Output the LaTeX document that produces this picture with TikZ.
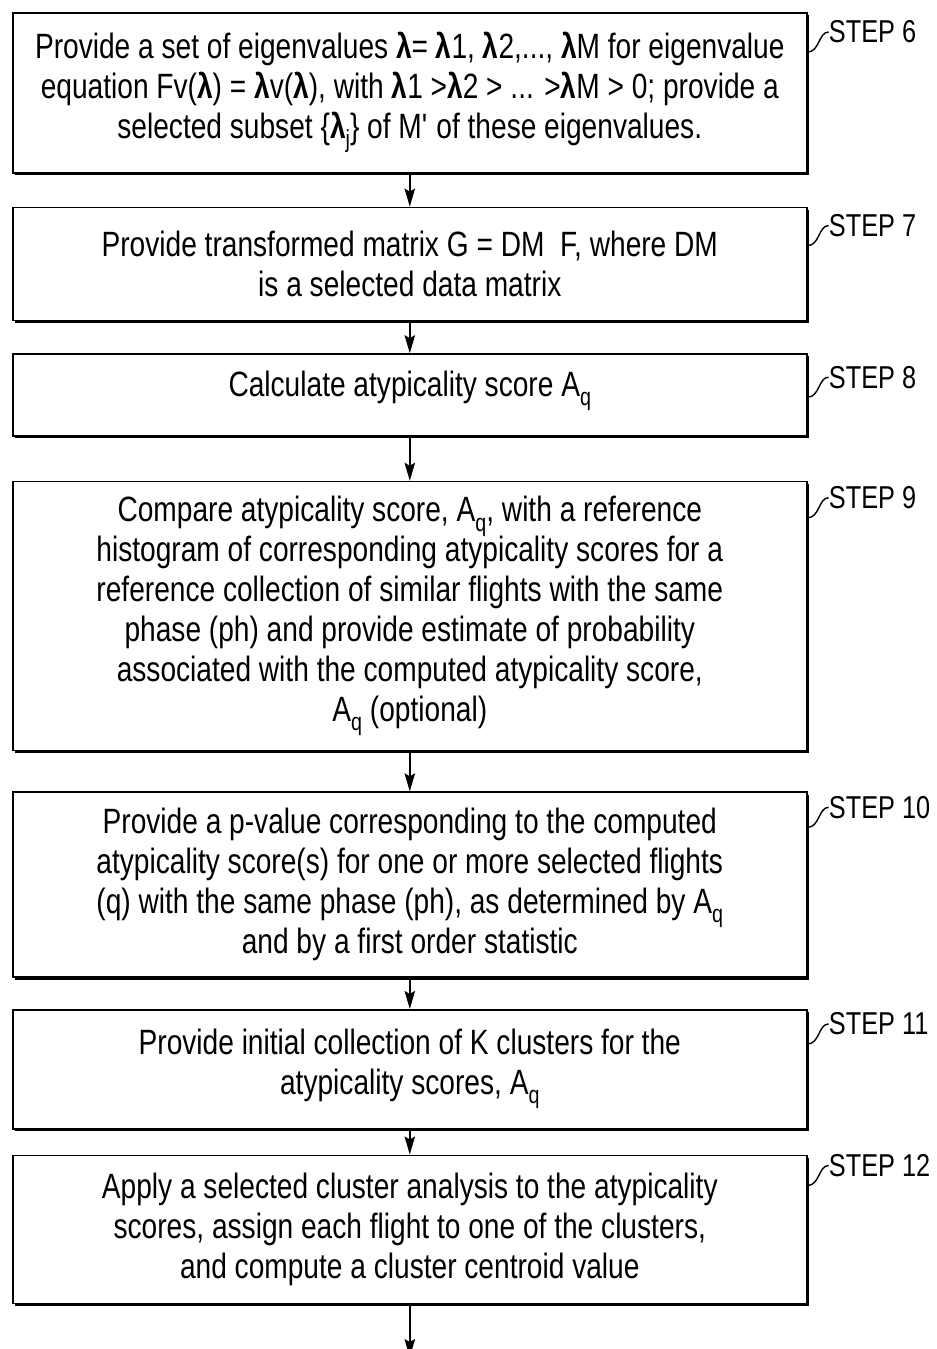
\documentclass[tikz,border=0pt]{standalone}
\usepackage{fontspec}
\setmainfont{Liberation Sans}[FakeStretch=0.80]
\usepackage{tikz}
\usetikzlibrary{arrows.meta,positioning,shadows,calc}

\newcommand{\lam}{\textbf{λ}}
\newcommand{\Aq}{A\raisebox{-0.5ex}{\fontsize{14}{14}\selectfont q}}

\begin{document}
\begin{tikzpicture}[>={Stealth[length=0.36cm,width=0.21cm,inset=0.06cm]},
  every node/.style={font=\fontsize{20}{22.7}\selectfont, align=center},
  stepbox/.style={draw, line width=0.9pt, fill=white, minimum width=15.88cm, inner sep=0pt,
    drop shadow={shadow xshift=0.05cm, shadow yshift=-0.05cm, fill=black, opacity=1}},
  steplabel/.style={font=\fontsize{18}{20}\selectfont, inner sep=0pt, anchor=west},
  leader/.style={line width=0.8pt}]
  \useasboundingbox (0,0) rectangle (18.72,-26.98);
  \node[stepbox, minimum height=3.2cm, anchor=north west] (s6) at (0.24,-0.24)
    {Provide a set of eigenvalues \lam= \lam1, \lam2,..., \lam M for eigenvalue\\
     equation Fv(\lam) = \lam v(\lam), with \lam1 >\lam2 > ... >\lam M > 0; provide a\\
     selected subset \{\lam\raisebox{-0.5ex}{\fontsize{14}{14}\selectfont j}\} of M\textquotesingle\ of these eigenvalues.};
  \node[stepbox, minimum height=2.26cm, below=0.66cm of s6] (s7)
    {Provide transformed matrix G = DM\ \ F, where DM\\ is a selected data matrix};
  \node[stepbox, minimum height=1.64cm, text depth=0.45cm, below=0.64cm of s7] (s8)
    {Calculate atypicality score \Aq};
  \node[stepbox, minimum height=5.38cm, below=0.88cm of s8] (s9)
    {Compare atypicality score, \Aq, with a reference\\
     histogram of corresponding atypicality scores for a\\
     reference collection of similar flights with the same\\
     phase (ph) and provide estimate of probability\\
     associated with the computed atypicality score,\\
     \Aq\ (optional)};
  \node[stepbox, minimum height=3.7cm, below=0.8cm of s9] (s10)
    {Provide a p-value corresponding to the computed\\
     atypicality score(s) for one or more selected flights\\
     (q) with the same phase (ph), as determined by \Aq\\
     and by a first order statistic};
  \node[stepbox, minimum height=2.38cm, below=0.62cm of s10] (s11)
    {Provide initial collection of K clusters for the\\ atypicality scores, \Aq};
  \node[stepbox, minimum height=2.96cm, below=0.5cm of s11] (s12)
    {Apply a selected cluster analysis to the atypicality\\
     scores, assign each flight to one of the clusters,\\
     and compute a cluster centroid value};
  \coordinate[below=1.06cm of s12] (next);

  \draw[->, line width=0.85pt] (s6) -- (s7);
  \draw[->, line width=0.85pt] (s7) -- (s8);
  \draw[->, line width=0.85pt] (s8) -- (s9);
  \draw[->, line width=0.85pt] (s9) -- (s10);
  \draw[->, line width=0.85pt] (s10) -- (s11);
  \draw[->, line width=0.85pt] (s11) -- (s12);
  \draw[->, line width=0.85pt] (s12) -- (next);

  % step labels with curly leaders
  \node[steplabel] (l6) at ($(s6.north east)+(0.42,-0.4)$) {STEP 6};
  \node[steplabel] (l7) at ($(s7.north east)+(0.42,-0.38)$) {STEP 7};
  \node[steplabel] (l8) at ($(s8.north east)+(0.42,-0.48)$) {STEP 8};
  \node[steplabel] (l9) at ($(s9.north east)+(0.42,-0.34)$) {STEP 9};
  \node[steplabel] (l10) at ($(s10.north east)+(0.42,-0.32)$) {STEP 10};
  \node[steplabel] (l11) at ($(s11.north east)+(0.42,-0.3)$) {STEP 11};
  \node[steplabel] (l12) at ($(s12.north east)+(0.42,-0.22)$) {STEP 12};
  \draw[leader] ($(s6.north east)+(0,-0.8)$) .. controls +(0.24,0) and +(-0.2,0) .. (l6.west);
  \draw[leader] ($(s7.north east)+(0,-0.78)$) .. controls +(0.24,0) and +(-0.2,0) .. (l7.west);
  \draw[leader] ($(s8.north east)+(0,-0.88)$) .. controls +(0.24,0) and +(-0.2,0) .. (l8.west);
  \draw[leader] ($(s9.north east)+(0,-0.74)$) .. controls +(0.24,0) and +(-0.2,0) .. (l9.west);
  \draw[leader] ($(s10.north east)+(0,-0.72)$) .. controls +(0.24,0) and +(-0.2,0) .. (l10.west);
  \draw[leader] ($(s11.north east)+(0,-0.7)$) .. controls +(0.24,0) and +(-0.2,0) .. (l11.west);
  \draw[leader] ($(s12.north east)+(0,-0.62)$) .. controls +(0.24,0) and +(-0.2,0) .. (l12.west);
\end{tikzpicture}
\end{document}
